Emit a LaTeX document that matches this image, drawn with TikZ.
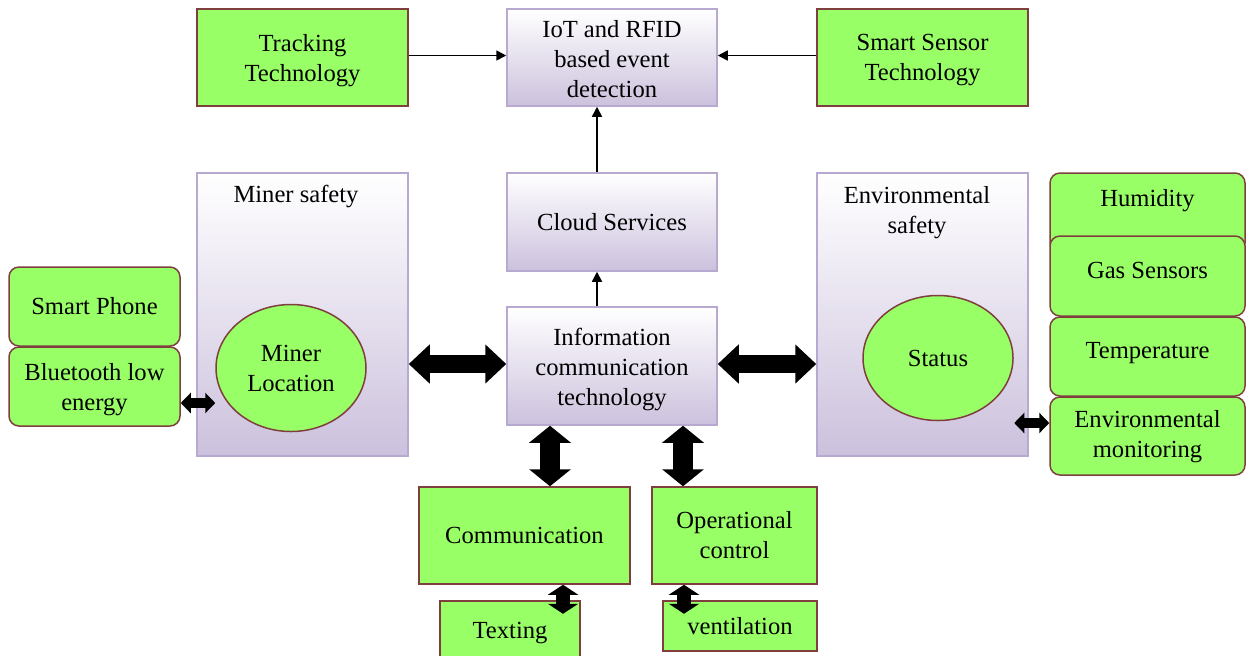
\documentclass[tikz,border=0pt]{standalone}
\usepackage{fontspec}
\setmainfont{Liberation Serif}
\usetikzlibrary{arrows.meta,shapes.geometric,calc}
\definecolor{grn}{HTML}{99FF66}
\definecolor{grnline}{HTML}{7F3F3F}
\definecolor{lav}{HTML}{CCC1DD}
\definecolor{lavline}{HTML}{B8A9D1}
\tikzset{
  txt/.style={font=\fontsize{12.3pt}{15pt}\selectfont, align=center, text=black},
  gbox/.style={txt, draw=grnline, line width=0.75pt, fill=grn, inner sep=0pt},
  rbox/.style={gbox, rounded corners=5pt},
  lbox/.style={txt, draw=lavline, line width=0.75pt, top color=white, bottom color=lav, inner sep=0pt},
  gell/.style={txt, ellipse, draw=grnline, line width=0.75pt, fill=grn, inner sep=0pt},
  thin/.style={line width=0.8pt, -{Triangle[width=5pt,length=5pt]}},
  fatH/.style={line width=9pt, {Triangle[width=19pt,length=10.5pt]}-{Triangle[width=19pt,length=10.5pt]}},
  fatV/.style={line width=10pt, {Triangle[width=20.5pt,length=8.5pt]}-{Triangle[width=20.5pt,length=8.5pt]}},
  smallH/.style={line width=5pt, {Triangle[width=10pt,length=5pt]}-{Triangle[width=10pt,length=5pt]}},
  smallV/.style={line width=7pt, {Triangle[width=15pt,length=5pt]}-{Triangle[width=15pt,length=5pt]}},
}
\begin{document}
\begin{tikzpicture}[x=0.5pt,y=-0.5pt]
\useasboundingbox[fill=white] (0,0) rectangle (1246,655);
% top row
\node[gbox, minimum width=105.5pt, minimum height=48.5pt, label={[txt,yshift=-1.5pt]center:Tracking\\Technology}] (track) at (302.5,57.5) {};
\node[lbox, minimum width=105pt, minimum height=48.5pt, label={[txt,yshift=-1pt]center:IoT and RFID\\based event\\detection}] (iot) at (612,57.5) {};
\node[gbox, minimum width=105.5pt, minimum height=48.5pt, label={[txt,yshift=-1.5pt]center:Smart Sensor\\Technology}] (smart) at (922.5,57.5) {};
% middle
\node[lbox, minimum width=105pt, minimum height=49pt] (cloud) at (612,222) {Cloud Services};
\node[lbox, minimum width=105pt, minimum height=59pt, label={[txt,yshift=-1.5pt]center:Information\\communication\\technology}] (ict) at (612,366) {};
\node[lbox, minimum width=105.5pt, minimum height=141.5pt] (miner) at (302.5,314.5) {};
\node[txt] (minert) at (296,196) {Miner safety};
\node[gell, minimum width=75pt, minimum height=63.5pt] (mloc) at (291,368) {Miner\\Location};
\node[lbox, minimum width=105.5pt, minimum height=141.5pt] (env) at (922.5,314.5) {};
\node[txt] (envt) at (917,212.5) {Environmental\\safety};
\node[gell, minimum width=75pt, minimum height=62.5pt] (status) at (938,358) {Status};
% left stack
\node[rbox, minimum width=85.5pt, minimum height=39.5pt] (phone) at (94.5,306.5) {Smart Phone};
\node[rbox, minimum width=85.5pt, minimum height=39.5pt, label={[txt,yshift=-1.5pt]center:Bluetooth low\\energy}] (ble) at (94.5,386.5) {};
% right stack
\node[rbox, minimum width=97.5pt, minimum height=40pt] (hum) at (1147.5,213) {};
\node[txt] (humt) at (1147.5,201) {Humidity};
\node[rbox, minimum width=97.5pt, minimum height=40pt, label={[txt,yshift=3pt]center:Gas Sensors}] (gas) at (1147.5,276) {};
\node[rbox, minimum width=97.5pt, minimum height=39.5pt, label={[txt,yshift=1.5pt]center:Temperature}] (temp) at (1147.5,356.5) {};
\node[rbox, minimum width=97.5pt, minimum height=39pt, label={[txt,yshift=-0.5pt]center:Environmental\\monitoring}] (envm) at (1147.5,436) {};
% bottom
\node[gbox, minimum width=105.5pt, minimum height=48.5pt] (comm) at (524.5,535.5) {Communication};
\node[gbox, minimum width=82.5pt, minimum height=48.5pt] (oper) at (734.5,535.5) {Operational\\control};
\node[gbox, minimum width=70pt, minimum height=32pt] (text) at (510,633) {Texting};
\node[gbox, minimum width=77pt, minimum height=25pt] (vent) at (740,626) {ventilation};
% thin arrows
\draw[thin] ([yshift=1pt]track.east) -- ([yshift=1pt]iot.west);
\draw[thin] ([yshift=1pt]smart.west) -- ([yshift=1pt]iot.east);
\draw[thin] ([xshift=-7.5pt]cloud.north) -- ([xshift=-7.5pt]iot.south);
\draw[thin] ([xshift=-7.5pt]ict.north) -- ([xshift=-7.5pt]cloud.south);
% fat arrows
\draw[fatH] ([yshift=1pt]miner.east |- ict.west) -- ([yshift=1pt]ict.west);
\draw[fatH] ([yshift=1pt]ict.east) -- ([yshift=1pt]env.west |- ict.east);
\draw[fatV] ([xshift=12.75pt]comm.north) -- ([xshift=12.75pt]comm.north |- ict.south);
\draw[fatV] ([xshift=-25.75pt]oper.north) -- ([xshift=-25.75pt]oper.north |- ict.south);
% small arrows
\coordinate (bleL) at ([yshift=-8.25pt]ble.east);
\draw[smallH] (bleL) -- (bleL -| mloc.west);
\coordinate (envmL) at ([yshift=6.5pt]envm.west);
\draw[smallH] (envmL) -- ([xshift=-17.5pt]envmL);
\coordinate (commB) at ([xshift=19.25pt]comm.south);
\draw[smallV] (commB) -- ([yshift=-14.5pt]commB);
\coordinate (operB) at ([xshift=-25.25pt]oper.south);
\draw[smallV] (operB) -- ([yshift=-14.5pt]operB);
\end{tikzpicture}
\end{document}
